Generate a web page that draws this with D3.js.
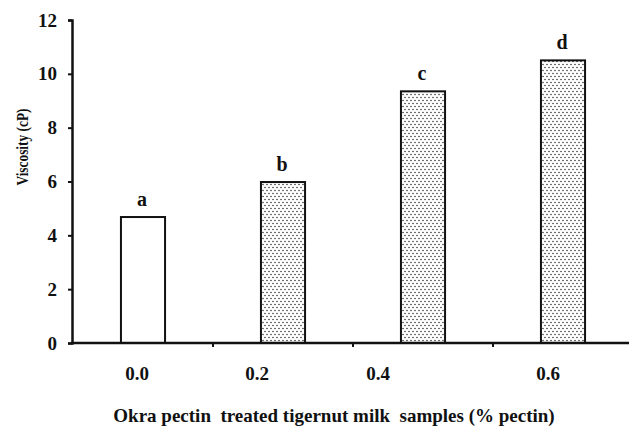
<!DOCTYPE html>
<html>
<head>
<meta charset="utf-8">
<script src="https://cdn.jsdelivr.net/npm/d3@7"></script>
<style>
  body { margin: 0; background: #fff; }
  text { font-family: "Liberation Serif", "Times New Roman", serif; font-weight: bold; fill: #111; }
</style>
</head>
<body>
<div id="chart"></div>
<script>
// data
var samples = ["0.0", "0.2", "0.4", "0.6"];
var viscosity = [4.68, 5.98, 9.35, 10.5];
var letters = ["a", "b", "c", "d"];
var yTicks = [0, 2, 4, 6, 8, 10, 12];

// the tick labels sit a bit left of the bars in the original
var labelNudge = [-6, -26, -45, -15];

var W = 629, H = 427;
var svg = d3.select("#chart")
  .append("svg")
    .attr("width", W)
    .attr("height", H);

// dotted fill for the treated samples
var pat = svg.append("defs").append("pattern")
    .attr("id", "dots")
    .attr("patternUnits", "userSpaceOnUse")
    .attr("width", 4)
    .attr("height", 6);
pat.append("rect").attr("width", 4).attr("height", 6).attr("fill", "#fff");
pat.append("circle").attr("cx", 1).attr("cy", 1.5).attr("r", 0.8).attr("fill", "#3a3a3a");
pat.append("circle").attr("cx", 3).attr("cy", 4.5).attr("r", 0.8).attr("fill", "#3a3a3a");

var x = d3.scaleBand()
    .domain(samples)
    .range([73, 633])
    .padding(0);

var y = d3.scaleLinear()
    .domain([0, 12])
    .range([343, 20]);

var barW = x.bandwidth() * 0.315;

// bars
svg.append("g")
  .selectAll("rect")
  .data(samples)
  .enter().append("rect")
    .attr("x", function(d) { return x(d) + x.bandwidth() / 2 - barW / 2; })
    .attr("y", function(d, i) { return y(viscosity[i]); })
    .attr("width", barW)
    .attr("height", function(d, i) { return y(0) - y(viscosity[i]); })
    .attr("fill", function(d, i) { return i == 0 ? "#fff" : "url(#dots)"; })
    .attr("stroke", "#111")
    .attr("stroke-width", 2);

// significance letters
svg.append("g")
  .selectAll("text")
  .data(letters)
  .enter().append("text")
    .attr("x", function(d, i) { return x(samples[i]) + x.bandwidth() / 2 - 1; })
    .attr("y", function(d, i) { return y(viscosity[i]) - 11; })
    .attr("text-anchor", "middle")
    .style("font-size", "20px")
    .text(function(d) { return d; });

// y axis
var yAxis = svg.append("g")
    .attr("transform", "translate(72,0)")
    .call(d3.axisLeft(y).tickValues(yTicks).tickSize(4).tickPadding(11).tickFormat(d3.format("d")));
yAxis.select(".domain").attr("stroke", "#111").attr("stroke-width", 2.5);
yAxis.selectAll(".tick line").attr("stroke", "#111").attr("stroke-width", 2);
yAxis.selectAll(".tick text")
    .style("font-size", "19px")
    .style("font-family", "Liberation Serif, serif")
    .attr("fill", "#111");

// x axis line and the small ticks between groups
svg.append("line")
    .attr("x1", 71).attr("x2", W)
    .attr("y1", y(0)).attr("y2", y(0))
    .attr("stroke", "#111")
    .attr("stroke-width", 2.5);

svg.append("g")
  .selectAll("line")
  .data(samples.slice(0, 3))
  .enter().append("line")
    .attr("x1", function(d) { return x(d) + x.bandwidth(); })
    .attr("x2", function(d) { return x(d) + x.bandwidth(); })
    .attr("y1", y(0))
    .attr("y2", y(0) + 4)
    .attr("stroke", "#111")
    .attr("stroke-width", 2);

svg.append("g")
  .selectAll("text")
  .data(samples)
  .enter().append("text")
    .attr("x", function(d, i) { return x(d) + x.bandwidth() / 2 + labelNudge[i]; })
    .attr("y", 380)
    .attr("text-anchor", "middle")
    .style("font-size", "19px")
    .text(function(d) { return d; });

// axis titles
svg.append("text")
    .attr("x", 334)
    .attr("y", 422)
    .attr("text-anchor", "middle")
    .style("font-size", "19px")
    .style("white-space", "pre")
    .text("Okra pectin  treated tigernut milk  samples (% pectin)");

// the original y title is squeezed along its length
svg.append("text")
    .attr("transform", "translate(28,147) rotate(-90)")
    .attr("text-anchor", "middle")
    .attr("textLength", 77)
    .attr("lengthAdjust", "spacingAndGlyphs")
    .style("font-size", "17px")
    .text("Viscosity (cP)");
</script>
</body>
</html>
